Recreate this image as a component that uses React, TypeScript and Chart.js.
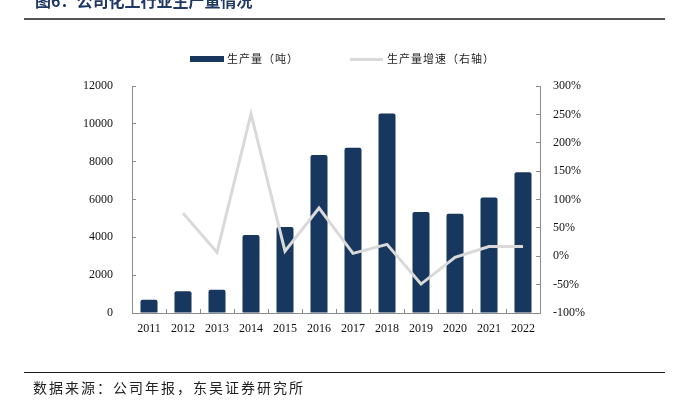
import React, { useEffect, useRef } from "react";
import { Chart, registerables } from "chart.js";

Chart.register(...registerables);

const years = ["2011", "2012", "2013", "2014", "2015", "2016", "2017", "2018", "2019", "2020", "2021", "2022"];
const production = [700, 1150, 1230, 4120, 4550, 8350, 8740, 10550, 5340, 5250, 6100, 7440];
const growth = [null, 76, 7, 251, 9, 85, 5, 21, -49, -2, 17, 17];
const leftTicks = [0, 12000, 2000];
const rightTicks = [-100, 300, 50];
const titleText = "图6：公司化工行业生产量情况";
const sourceText = "数据来源：公司年报，东吴证券研究所";
const barLabel = "生产量（吨）";
const lineLabel = "生产量增速（右轴）";

const BAR_COLOR = "#17375e";
const LINE_COLOR = "#d9d9d9";
const AXIS_COLOR = "#8c8c8c";
const CJK = '"Noto Sans CJK SC", sans-serif';
const SERIF = '"Liberation Serif", "Times New Roman", serif';

const decorPlugin = {
  id: "decor",
  afterDraw(chart: any) {
    const ctx = chart.ctx;
    ctx.save();
    // title
    ctx.fillStyle = "#1f3864";
    ctx.font = `bold 16px ${CJK}`;
    ctx.textBaseline = "alphabetic";
    ctx.textAlign = "left";
    ctx.fillText(titleText, 35, 7);
    // rules
    ctx.strokeStyle = "#1a1a1a";
    ctx.lineWidth = 1.5;
    ctx.beginPath();
    ctx.moveTo(24, 19);
    ctx.lineTo(665, 19);
    ctx.stroke();
    ctx.lineWidth = 1.2;
    ctx.beginPath();
    ctx.moveTo(24, 372.5);
    ctx.lineTo(665, 372.5);
    ctx.stroke();
    // source
    ctx.fillStyle = "#222";
    ctx.font = `14px ${CJK}`;
    ctx.textBaseline = "middle";
    (ctx as any).letterSpacing = "2px";
    ctx.fillText(sourceText, 33, 388);
    // legend
    (ctx as any).letterSpacing = "1px";
    ctx.font = `11px ${CJK}`;
    ctx.fillStyle = BAR_COLOR;
    ctx.fillRect(190, 56, 34, 6);
    ctx.fillStyle = "#222";
    ctx.fillText(barLabel, 227, 58.5);
    ctx.strokeStyle = LINE_COLOR;
    ctx.lineWidth = 3;
    ctx.beginPath();
    ctx.moveTo(350, 59.5);
    ctx.lineTo(383, 59.5);
    ctx.stroke();
    ctx.fillText(lineLabel, 387, 58.5);
    (ctx as any).letterSpacing = "0px";
    ctx.restore();
  },
};

export default function App() {
  const ref = useRef<HTMLCanvasElement | null>(null);
  useEffect(() => {
    if (!ref.current) return;
    const chart = new Chart(ref.current, {
      type: "bar",
      data: {
        labels: years,
        datasets: [
          {
            type: "line",
            label: lineLabel,
            data: growth as any,
            yAxisID: "y1",
            borderColor: LINE_COLOR,
            backgroundColor: LINE_COLOR,
            borderWidth: 3,
            pointRadius: 0,
            tension: 0,
            order: 0,
          } as any,
          {
            type: "bar",
            label: barLabel,
            data: production,
            yAxisID: "y",
            backgroundColor: BAR_COLOR,
            borderRadius: 2,
            barPercentage: 0.5,
            categoryPercentage: 1,
            order: 1,
          },
        ],
      },
      options: {
        responsive: false,
        animation: false,
        layout: { padding: { top: 86, left: 0, right: 0, bottom: 0 } },
        plugins: { legend: { display: false }, tooltip: { enabled: false }, title: { display: false } },
        scales: {
          x: {
            position: "bottom",
            grid: { offset: true, drawOnChartArea: false, drawTicks: true, tickLength: -4, color: AXIS_COLOR },
            border: { color: AXIS_COLOR, width: 1 },
            ticks: { color: "#111", font: { family: SERIF, size: 12 }, padding: 13, maxRotation: 0 },
            afterFit: (s: any) => { s.height = 94; },
          },
          y: {
            position: "left",
            min: leftTicks[0],
            max: leftTicks[1],
            grid: { drawOnChartArea: false, drawTicks: true, tickLength: -4, color: AXIS_COLOR },
            border: { color: AXIS_COLOR, width: 1 },
            ticks: {
              stepSize: leftTicks[2],
              color: "#111",
              font: { family: SERIF, size: 12 },
              padding: 23,
              callback: (v: any) => String(v),
            },
            afterFit: (s: any) => { s.width = 132; },
          },
          y1: {
            position: "right",
            min: rightTicks[0],
            max: rightTicks[1],
            grid: { drawOnChartArea: false, drawTicks: true, tickLength: -4, color: AXIS_COLOR },
            border: { color: AXIS_COLOR, width: 1 },
            ticks: {
              stepSize: rightTicks[2],
              color: "#111",
              font: { family: SERIF, size: 12 },
              padding: 17,
              callback: (v: any) => `${v}%`,
            },
            afterFit: (s: any) => { s.width = 139; },
          },
        },
      },
      plugins: [decorPlugin],
    });
    return () => chart.destroy();
  }, []);
  return (
    <div style={{ position: "fixed", top: 0, left: 0, width: 679, height: 407, background: "#fff" }}>
      <canvas ref={ref} width={679} height={407} style={{ width: 679, height: 407, display: "block" }} />
    </div>
  );
}
